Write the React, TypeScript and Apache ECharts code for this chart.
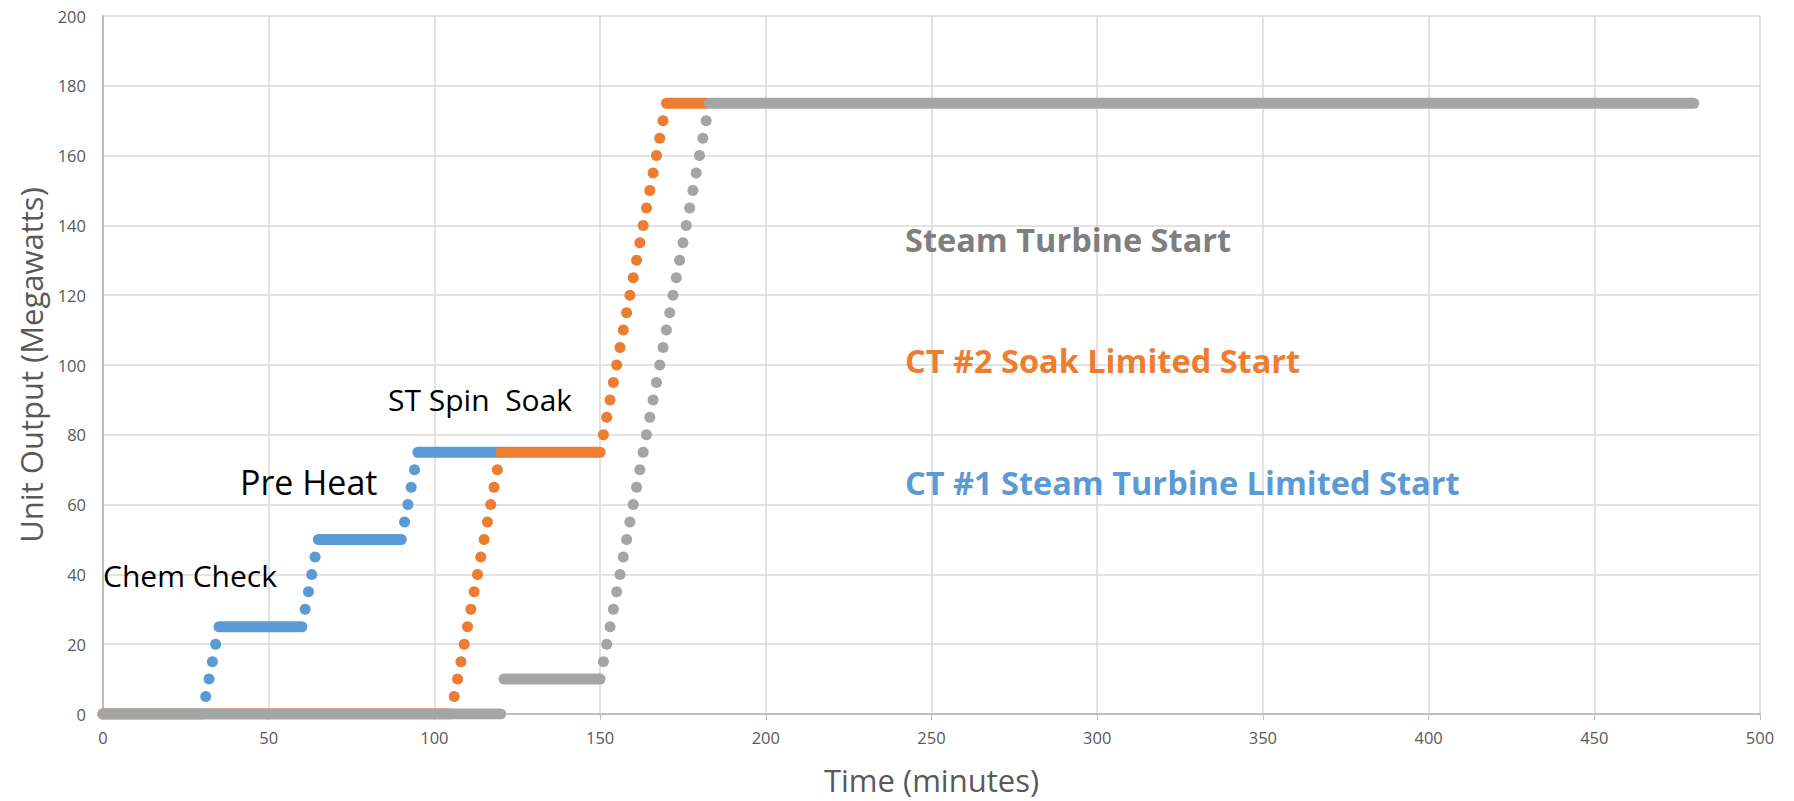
import React, { useEffect, useRef } from "react";
import * as echarts from "echarts";

// Plateaus: [startMinute, endMinute, megawatts]
const blueSteps: number[][] = [
  [0, 30, 0],
  [35, 60, 25],
  [65, 90, 50],
  [95, 120, 75],
];
const blueRamp: number[][] = [
  [31, 5], [32, 10], [33, 15], [34, 20],
  [61, 30], [62, 35], [63, 40], [64, 45],
  [91, 55], [92, 60], [93, 65], [94, 70],
];

const orangeSteps: number[][] = [
  [0, 105, 0],
  [120, 150, 75],
  [170, 182, 175],
];
const orangeRamp: number[][] = [
  [106, 5], [107, 10], [108, 15], [109, 20], [110, 25], [111, 30], [112, 35],
  [113, 40], [114, 45], [115, 50], [116, 55], [117, 60], [118, 65], [119, 70],
  [151, 80], [152, 85], [153, 90], [154, 95], [155, 100], [156, 105], [157, 110],
  [158, 115], [159, 120], [160, 125], [161, 130], [162, 135], [163, 140],
  [164, 145], [165, 150], [166, 155], [167, 160], [168, 165], [169, 170],
];

const graySteps: number[][] = [
  [0, 120, 0],
  [121, 150, 10],
  [183, 480, 175],
];
const grayRamp: number[][] = [
  [151, 15], [152, 20], [153, 25], [154, 30], [155, 35], [156, 40], [157, 45],
  [158, 50], [159, 55], [160, 60], [161, 65], [162, 70], [163, 75], [164, 80],
  [165, 85], [166, 90], [167, 95], [168, 100], [169, 105], [170, 110],
  [171, 115], [172, 120], [173, 125], [174, 130], [175, 135], [176, 140],
  [177, 145], [178, 150], [179, 155], [180, 160], [181, 165], [182, 170],
];

const BLUE = "#5B9BD5";
const ORANGE = "#ED7D31";
const GRAY = "#A5A5A5";
const LABEL_GRAY = "#7F7F7F";
const DOT = 11;

function seriesFor(name: string, color: string, steps: number[][], ramp: number[][]) {
  const out: any[] = [];
  steps.forEach((s, i) => {
    out.push({
      name: name + "-step" + i,
      type: "line",
      data: [[s[0], s[2]], [s[1], s[2]]],
      showSymbol: false,
      symbol: "none",
      lineStyle: { color, width: DOT, cap: "round" },
      silent: true,
    });
  });
  out.push({
    name: name + "-ramp",
    type: "scatter",
    data: ramp,
    symbol: "circle",
    symbolSize: DOT,
    itemStyle: { color, opacity: 1 },
    silent: true,
  });
  return out;
}

const FONT = "'Open Sans', 'Noto Sans', sans-serif";

export default function App() {
  const ref = useRef<HTMLDivElement>(null);
  useEffect(() => {
    const chart = echarts.init(ref.current!, null, { renderer: "svg" });
    const txt = (text: string, x: number, y: number, size: number, color: string, weight: string) => ({
      type: "text",
      x,
      y,
      style: {
        text,
        fontSize: size,
        fontFamily: FONT,
        fontWeight: weight,
        fill: color,
        verticalAlign: "middle",
        align: "left",
      },
      z: 100,
    });
    chart.setOption({
      animation: false,
      backgroundColor: "#ffffff",
      grid: { left: 103, right: 34, top: 16, bottom: 87, containLabel: false },
      xAxis: {
        type: "value",
        min: 0,
        max: 500,
        interval: 50,
        name: "Time (minutes)",
        nameLocation: "middle",
        nameGap: 50,
        nameTextStyle: { fontSize: 31, color: "#595959", fontFamily: FONT },
        axisLine: { show: true, lineStyle: { color: "#BFBFBF", width: 2 } },
        axisTick: { show: true, length: 6, lineStyle: { color: "#BFBFBF" } },
        axisLabel: { fontSize: 16.5, color: "#595959", margin: 15, fontFamily: FONT },
        splitLine: { show: true, lineStyle: { color: "#D9D9D9", width: 1.5 } },
      },
      yAxis: {
        type: "value",
        min: 0,
        max: 200,
        interval: 20,
        name: "Unit Output (Megawatts)",
        nameLocation: "middle",
        nameGap: 57,
        nameTextStyle: { fontSize: 31, color: "#595959", fontFamily: FONT },
        axisLine: { show: true, lineStyle: { color: "#BFBFBF", width: 2 } },
        axisTick: { show: false },
        axisLabel: { fontSize: 16.5, color: "#595959", margin: 17, fontFamily: FONT },
        splitLine: { show: true, lineStyle: { color: "#D9D9D9", width: 1.5 } },
      },
      series: [
        ...seriesFor("blue", BLUE, blueSteps, blueRamp),
        ...seriesFor("orange", ORANGE, orangeSteps, orangeRamp),
        ...seriesFor("gray", GRAY, graySteps, grayRamp),
      ],
      graphic: [
        txt("Chem Check", 103, 575, 30, "#000000", "normal"),
        txt("Pre Heat", 240, 482, 34, "#000000", "normal"),
        txt("ST Spin  Soak", 388, 399, 30, "#000000", "normal"),
        txt("Steam Turbine Start", 905, 239, 32.5, LABEL_GRAY, "bold"),
        txt("CT #2 Soak Limited Start", 905, 360, 32.5, ORANGE, "bold"),
        txt("CT #1 Steam Turbine Limited Start", 905, 482, 32.5, BLUE, "bold"),
      ],
    });
    return () => chart.dispose();
  }, []);
  return (
    <div
      ref={ref}
      style={{ position: "fixed", left: 0, top: 0, width: 1794, height: 801 }}
    />
  );
}
